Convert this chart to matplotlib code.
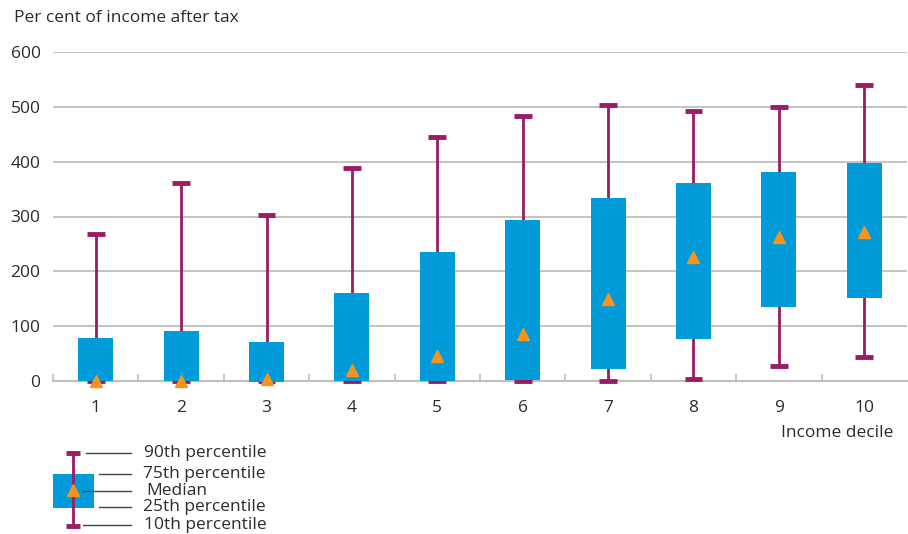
import matplotlib
matplotlib.use("Agg")
import matplotlib.pyplot as plt
from matplotlib.patches import Rectangle
from matplotlib.lines import Line2D

plt.rcParams['font.family'] = ['Open Sans', 'DejaVu Sans']

deciles = ['1', '2', '3', '4', '5', '6', '7', '8', '9', '10']
p10 = [0, 0, 0, 0, 0, 0, 0, 3, 28, 43]
p25 = [0, 0, -2, 0, 0, 2, 22, 76, 135, 152]
median = [0, 0, 3, 20, 45, 86, 150, 226, 263, 272]
p75 = [78, 91, 72, 160, 235, 293, 333, 362, 381, 397]
p90 = [268, 361, 303, 388, 445, 483, 504, 493, 499, 539]

yticks = [0, 100, 200, 300, 400, 500, 600]
ylabel = 'Per cent of income after tax'
xlabel = 'Income decile'
legend_labels = ['90th percentile', '75th percentile', 'Median', '25th percentile', '10th percentile']

BOX = '#009BD8'
WHISK = '#9B1B64'
MED = '#F7941D'
GRID = '#BEBEBE'
TXT = '#2B2B2B'
FS = 12.5

W, H = 908, 534
fig = plt.figure(figsize=(W / 100, H / 100), dpi=100)
ax = fig.add_axes([53 / W, 1 - 381 / H, (907 - 53) / W, (381 - 52) / H])

xs = list(range(1, len(deciles) + 1))
bw = 0.41
cw = 0.21
for x, a, b, m, c, d in zip(xs, p10, p25, median, p75, p90):
    ax.plot([x, x], [a, d], color=WHISK, lw=2, zorder=3, clip_on=False, solid_capstyle='butt')
    ax.plot([x - cw / 2, x + cw / 2], [d, d], color=WHISK, lw=3.5, zorder=3, clip_on=False, solid_capstyle='butt')
    ax.plot([x - cw / 2, x + cw / 2], [a, a], color=WHISK, lw=3.5, zorder=3, clip_on=False, solid_capstyle='butt')
    ax.add_patch(Rectangle((x - bw / 2, b), bw, c - b, facecolor=BOX, edgecolor='none', zorder=4, clip_on=False))
    ax.plot([x], [m], marker='^', color=MED, markersize=8.5, zorder=5, clip_on=False, linestyle='none')

ax.set_xlim(0.5, 10.5)
ax.set_ylim(0, 600)
ax.set_yticks(yticks)
ax.set_yticklabels([str(v) for v in yticks])
ax.set_xticks(xs)
ax.set_xticklabels(deciles)
ax.set_xticks([i + 0.5 for i in range(0, 10)], minor=True)
ax.tick_params(axis='y', length=0, pad=9, labelsize=FS, labelcolor=TXT)
ax.tick_params(axis='x', which='major', length=0, pad=14, labelsize=FS, labelcolor=TXT)
ax.tick_params(axis='x', which='minor', direction='in', length=5, width=1.2, color=GRID)
ax.grid(axis='y', color=GRID, lw=1.3)
ax.set_axisbelow(True)
for s in ['top', 'right', 'left']:
    ax.spines[s].set_visible(False)
ax.spines['bottom'].set_color(GRID)
ax.spines['bottom'].set_linewidth(1.5)
ax.spines['bottom'].set_zorder(2)

fig.text(14 / W, 1 - 18 / H, ylabel, fontsize=FS, color=TXT, va='center', ha='left')
fig.text(893 / W, 1 - 433 / H, xlabel, fontsize=FS, color=TXT, va='center', ha='right')

# legend key drawn in pixel coordinates
lg = fig.add_axes([0, 0, 1, 1])
lg.set_xlim(0, W)
lg.set_ylim(H, 0)
lg.axis('off')
lg.add_line(Line2D([73, 73], [453, 526], color=WHISK, lw=2, solid_capstyle='butt'))
lg.add_line(Line2D([66, 80], [453, 453], color=WHISK, lw=3.5, solid_capstyle='butt'))
lg.add_line(Line2D([66, 80], [526, 526], color=WHISK, lw=3.5, solid_capstyle='butt'))
lg.add_patch(Rectangle((53, 474), 41, 34, facecolor=BOX, edgecolor='none'))
lg.plot([73], [490], marker='^', color=MED, markersize=8.5, linestyle='none')
rows = [(86, 453, 144), (99, 474, 143), (83, 491, 146), (99, 507, 143), (83, 525, 144)]
for (x0, y, tx), lab in zip(rows, legend_labels):
    lg.add_line(Line2D([x0, 131], [y, y], color='#444444', lw=1))
    lg.text(tx, y, lab, fontsize=FS, color=TXT, va='center', ha='left')

fig.savefig('out.png', dpi=100)
